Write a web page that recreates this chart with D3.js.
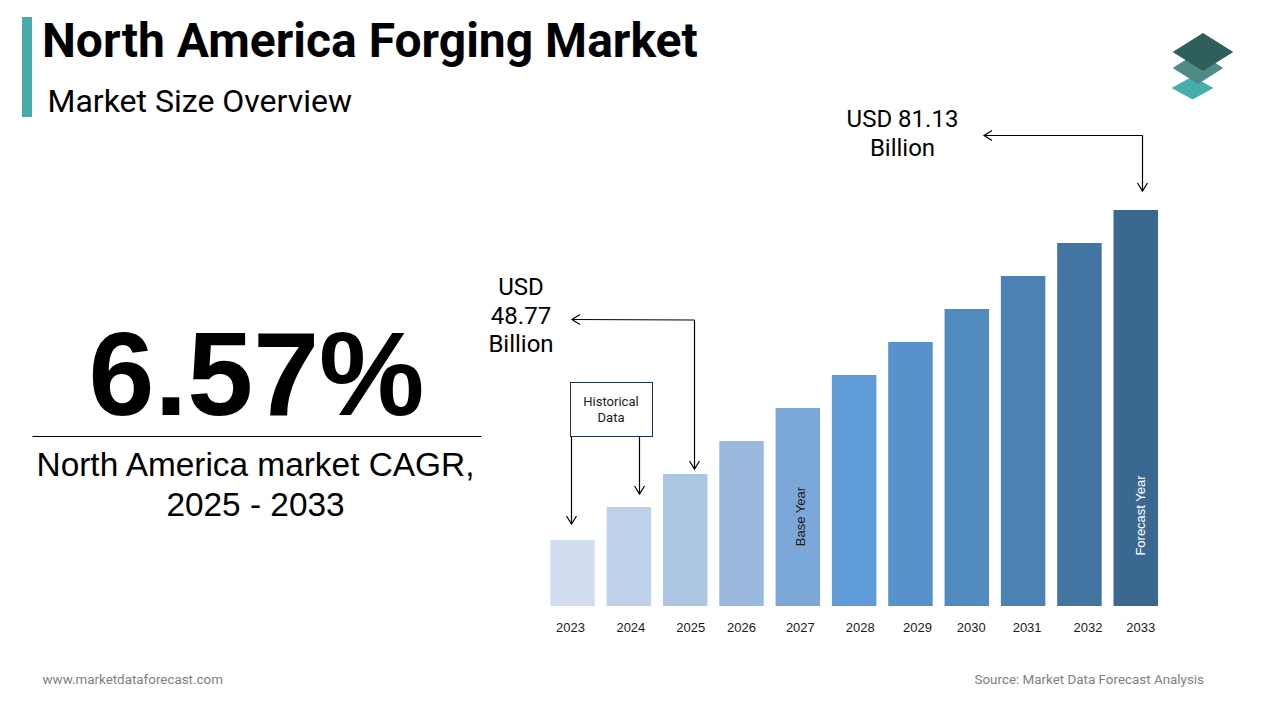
<!DOCTYPE html>
<html><head><meta charset="utf-8">
<script src="https://cdn.jsdelivr.net/npm/d3@7/dist/d3.min.js"></script>
<style>html,body{margin:0;background:#fff}svg{display:block}text{font-family:Roboto,sans-serif;fill:#000}</style>
</head><body><svg id="c" width="1280" height="720"></svg>
<script>
const years=["2023","2024","2025","2026","2027","2028","2029","2030","2031","2032","2033"];
const barUnits=[2,3,4,5,6,7,8,9,10,11,12];
const barColors=["#d2deef","#bed1e9","#adc6e4","#99b9de","#7ca8d9","#5f9bd7","#5892cc","#518abf","#4b81b3","#4375a3","#3b6891"];
const tickNudge=[-2,2,5.5,0,2.5,6,7,4.5,4,8.5,5];
const ARIAL='"Liberation Sans",Arial,sans-serif';

const svg=d3.select("#c");
const x=d3.scaleBand().domain(years).range([550.3,1158]).paddingInner(0.21).paddingOuter(0);
const y=d3.scaleLinear().domain([0,12]).range([606,210]);

svg.append("rect").attr("x",22).attr("y",17).attr("width",10).attr("height",100).attr("fill","#48aaa9");
const T=(s,px,py,size,o={})=>svg.append("text").attr("x",px).attr("y",py).attr("font-size",size)
  .attr("font-weight",o.w||400).attr("text-anchor",o.a||"start").style("fill",o.c||"#000")
  .style("font-family",o.f||"Roboto,sans-serif").text(s);
T("North America Forging Market",42,57,48,{w:700});
T("Market Size Overview",47.5,112,32);
T("6.57%",256.5,415,118.5,{w:700,a:"middle",f:ARIAL});
svg.append("line").attr("x1",32.5).attr("x2",481.5).attr("y1",436.5).attr("y2",436.5).attr("stroke","#000").attr("stroke-width",1);
T("North America market CAGR,",255.5,476,33.4,{a:"middle",f:ARIAL});
T("2025 - 2033",255.5,516,33.4,{a:"middle",f:ARIAL});
T("www.marketdataforecast.com",42.5,684,13.4,{c:"#7f7f7f"});
T("Source: Market Data Forecast Analysis",1204,684,13.4,{a:"end",c:"#7f7f7f"});

// logo
const logo=[[1192.5,88,20,11,"#45aeab"],[1198,68,24.5,15.5,"#4f8a87"],[1203,52,29.5,18.5,"#2f5f5b"]];
logo.forEach(([cx,cy,w,h,f])=>svg.append("path")
  .attr("d",`M${cx-w},${cy}L${cx},${cy-h}L${cx+w},${cy}L${cx},${cy+h}Z`)
  .attr("fill",f).attr("stroke",f).attr("stroke-width",1).attr("stroke-linejoin","round"));

// bars
svg.append("g").selectAll("rect").data(years).join("rect")
  .attr("x",d=>x(d)).attr("width",x.bandwidth())
  .attr("y",(d,i)=>y(barUnits[i])).attr("height",(d,i)=>y(0)-y(barUnits[i]))
  .attr("fill",(d,i)=>barColors[i]);

// axis
const ax=svg.append("g").attr("transform","translate(0,606)").call(d3.axisBottom(x).tickSize(0).tickPadding(17));
ax.select(".domain").remove();
ax.selectAll("text").attr("font-size",13).attr("dx",(d,i)=>tickNudge[i]).style("font-family",ARIAL).style("fill","#1a1a1a");

// rotated labels
const rot=(s,cx,cy,c)=>svg.append("text").attr("transform",`translate(${cx},${cy}) rotate(-90)`)
  .attr("text-anchor","middle").attr("font-size",13).style("font-family",ARIAL).style("fill",c).text(s);
rot("Base Year",x("2027")+x.bandwidth()/2+7,516.5,"#1a1a1a");
rot("Forecast Year",x("2033")+x.bandwidth()/2+9.5,515.5,"#fff");

// callouts
const arrow=(pts,head)=>{
  svg.append("path").attr("d",d3.line()(pts)).attr("fill","none").attr("stroke","#000").attr("stroke-width",1.2);
  const [ex,ey]=pts[pts.length-1];
  const p=head==="down"?[[ex-5,ey-8],[ex,ey],[ex+5,ey-8]]:[[ex+8,ey-5],[ex,ey],[ex+8,ey+5]];
  svg.append("path").attr("d",d3.line()(p)).attr("fill","none").attr("stroke","#000").attr("stroke-width",1.2);
};
arrow([[1142.5,135.5],[1142.5,191]],"down");
arrow([[1142.5,135.5],[984,135.5]],"left");
arrow([[694.5,320],[694.5,469]],"down");
arrow([[694.5,320],[572,319.5]],"left");
arrow([[571.5,437],[571.5,524]],"down");
arrow([[639.5,437],[639.5,494]],"down");
T("USD 81.13",902.5,127,24,{a:"middle"});
T("Billion",902.5,156,24,{a:"middle"});
T("USD",521,295,24,{a:"middle"});
T("48.77",521,324,24,{a:"middle"});
T("Billion",521,352,24,{a:"middle"});
svg.append("rect").attr("x",570.5).attr("y",382.5).attr("width",82).attr("height",54).attr("fill","#fff").attr("stroke","#1c3350").attr("stroke-width",1);
T("Historical",611,406,13,{a:"middle",c:"#1a1a1a"});
T("Data",611,422,13,{a:"middle",c:"#1a1a1a"});
</script></body></html>
